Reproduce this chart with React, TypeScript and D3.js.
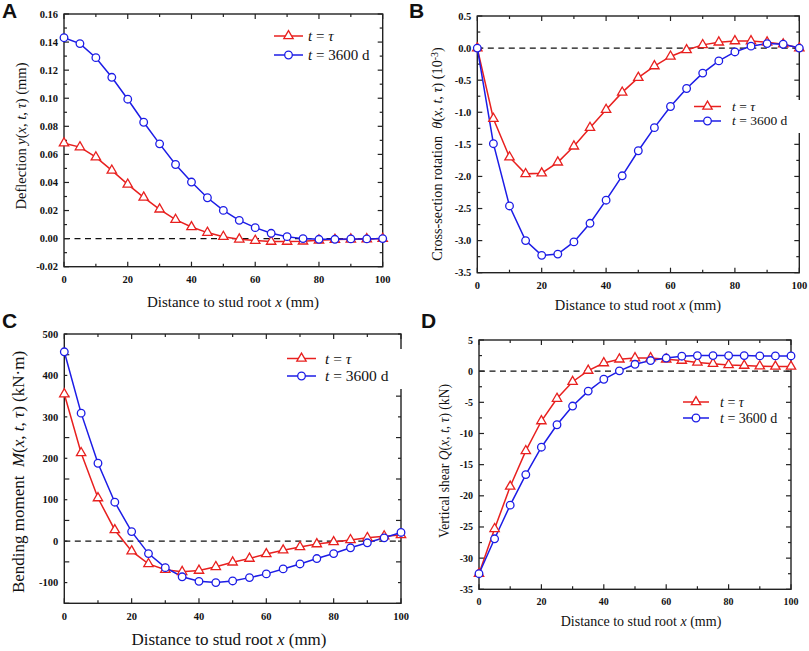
import React from "react";
import * as d3 from "d3";

const xValues = [0, 5, 10, 15, 20, 25, 30, 35, 40, 45, 50, 55, 60, 65, 70, 75, 80, 85, 90, 95, 100];

const deflectionTau = [0.068, 0.0652, 0.058, 0.0486, 0.0386, 0.0294, 0.0209, 0.0135, 0.0083, 0.0043, 0.0014, -0.0005, -0.0014, -0.0021, -0.0021, -0.0019, -0.0012, -0.0007, -0.0005, -0.0003, 0.0];
const deflection3600 = [0.1431, 0.1389, 0.1289, 0.1149, 0.0993, 0.0829, 0.0675, 0.0528, 0.0403, 0.0291, 0.0201, 0.013, 0.0078, 0.0038, 0.0014, 0.0, -0.0005, -0.0005, -0.0002, -0.0002, 0.0];

const rotationTau = [0, -1.1, -1.7, -1.96, -1.95, -1.78, -1.53, -1.24, -0.96, -0.69, -0.46, -0.28, -0.13, -0.03, 0.05, 0.09, 0.11, 0.11, 0.09, 0.06, 0];
const rotation3600 = [0, -1.49, -2.46, -3.0, -3.23, -3.21, -3.02, -2.73, -2.37, -1.99, -1.6, -1.24, -0.91, -0.63, -0.39, -0.2, -0.06, 0.03, 0.07, 0.06, 0];

const momentTau = [355, 213, 104, 27, -24, -55, -69, -74, -71, -62, -51, -42, -31, -22, -14, -7, -2, 3, 8, 12, 15];
const moment3600 = [457, 309, 188, 94, 23, -30, -64, -86, -97, -100, -96, -88, -79, -67, -55, -42, -30, -16, -4, 8, 21];

const shearTau = [-32.5, -25.3, -18.5, -12.8, -8.0, -4.4, -1.7, 0.1, 1.3, 1.9, 2.1, 2.1, 1.9, 1.7, 1.4, 1.2, 1.0, 0.9, 0.8, 0.75, 0.75];
const shear3600 = [-32.5, -26.9, -21.5, -16.6, -12.2, -8.6, -5.6, -3.2, -1.3, 0.05, 1.1, 1.7, 2.1, 2.4, 2.5, 2.5, 2.5, 2.5, 2.45, 2.45, 2.45];

const xTicks = [0, 20, 40, 60, 80, 100];
const deflectionTicks = [-0.02, 0, 0.02, 0.04, 0.06, 0.08, 0.1, 0.12, 0.14, 0.16];
const rotationTicks = [-3.5, -3.0, -2.5, -2.0, -1.5, -1.0, -0.5, 0, 0.5];
const momentTicks = [-100, 0, 100, 200, 300, 400, 500];
const shearTicks = [-35, -30, -25, -20, -15, -10, -5, 0, 5];

const legendTau = "t = \u03c4";
const legend3600 = "t = 3600 d";

const RED = "#e8201f";
const BLUE = "#1c1ce6";
const SERIF = "'Liberation Serif','Times New Roman',Times,serif";
const SANS = "'Liberation Sans',Arial,Helvetica,sans-serif";

type Box = { left: number; right: number; top: number; bottom: number };

type PanelProps = {
  box: Box;
  yDomain: [number, number];
  yTicks: number[];
  yMinorStep: number;
  xMinorStep: number;
  fmt: (v: number) => string;
  red: number[];
  blue: number[];
  tickFont: number;
  titleFont: number;
  xTitle: { x: number; y: number };
  yTitle: { x: number; y: number; node: React.ReactNode; size: number };
  legend: { x1: number; x2: number; yRed: number; yBlue: number; textX: number; size: number; mask?: [number, number, number, number] };
  label: { text: string; x: number; y: number };
};

function Marker({ kind, cx, cy, color }: { kind: "tri" | "circ"; cx: number; cy: number; color: string }) {
  if (kind === "circ") {
    return <circle cx={cx} cy={cy} r={3.8} fill="white" stroke={color} strokeWidth={1.3} />;
  }
  const path = d3.symbol().type(d3.symbolTriangle).size(38)() as string;
  return <path d={path} transform={`translate(${cx},${cy})`} fill="white" stroke={color} strokeWidth={1.3} />;
}

function LegendText({ label, x, y, size }: { label: string; x: number; y: number; size: number }) {
  const rest = label.slice(1);
  const parts = rest.split("\u03c4");
  return (
    <text x={x} y={y} dy="0.33em" fontFamily={SERIF} fontSize={size} fill="#111">
      <tspan fontStyle="italic">t</tspan>
      {parts.length > 1 ? (
        <>
          <tspan>{parts[0]}</tspan>
          <tspan fontStyle="italic">{"\u03c4"}</tspan>
        </>
      ) : (
        <tspan>{rest}</tspan>
      )}
    </text>
  );
}

function Panel(p: PanelProps) {
  const { box } = p;
  const x = d3.scaleLinear().domain([0, 100]).range([box.left, box.right]);
  const y = d3.scaleLinear().domain(p.yDomain).range([box.bottom, box.top]);
  const line = d3
    .line<number>()
    .x((_, i) => x(xValues[i]))
    .y((d) => y(d));
  const xMinor = d3.range(0, 100 + 1e-9, p.xMinorStep);
  const yMinor = d3.range(p.yDomain[0], p.yDomain[1] + 1e-9, p.yMinorStep);
  const yMajorAll = d3.range(p.yDomain[0], p.yDomain[1] + 1e-9, p.yMinorStep * 2);
  const MAJ = 5;
  const MIN = 3;
  const tickStroke = { stroke: "#222", strokeWidth: 1.2 };

  return (
    <g>
      <line x1={box.left} x2={box.right} y1={y(0)} y2={y(0)} stroke="#111" strokeWidth={1.4} strokeDasharray="6,4.5" />
      <rect x={box.left} y={box.top} width={box.right - box.left} height={box.bottom - box.top} fill="none" stroke="#222" strokeWidth={1.4} />
      {xMinor.map((v) => {
        const major = xTicks.includes(Math.round(v));
        const L = major ? MAJ : MIN;
        return (
          <g key={"xt" + v}>
            <line x1={x(v)} x2={x(v)} y1={box.bottom} y2={box.bottom - L} {...tickStroke} />
            <line x1={x(v)} x2={x(v)} y1={box.top} y2={box.top + L} {...tickStroke} />
          </g>
        );
      })}
      {yMinor.map((v, i) => {
        const major = yMajorAll.some((m) => Math.abs(m - v) < 1e-9);
        const L = major ? MAJ : MIN;
        return (
          <g key={"yt" + i}>
            <line x1={box.left} x2={box.left + L} y1={y(v)} y2={y(v)} {...tickStroke} />
            <line x1={box.right} x2={box.right - L} y1={y(v)} y2={y(v)} {...tickStroke} />
          </g>
        );
      })}
      {xTicks.map((v) => (
        <text key={"xl" + v} x={x(v)} y={box.bottom + 9} dy="0.71em" textAnchor="middle" fontFamily={SERIF} fontWeight="bold" fontSize={p.tickFont} fill="#111">
          {String(v)}
        </text>
      ))}
      {p.yTicks.map((v) => (
        <text key={"yl" + v} x={box.left - 6} y={y(v)} dy="0.35em" textAnchor="end" fontFamily={SERIF} fontWeight="bold" fontSize={p.tickFont} fill="#111">
          {p.fmt(v)}
        </text>
      ))}
      <text x={p.xTitle.x} y={p.xTitle.y} textAnchor="middle" fontFamily={SERIF} fontSize={p.titleFont} fill="#111">
        Distance to stud root <tspan fontStyle="italic">x</tspan> (mm)
      </text>
      <text
        transform={`translate(${p.yTitle.x},${p.yTitle.y}) rotate(-90)`}
        dy="0.35em"
        textAnchor="middle"
        fontFamily={SERIF}
        fontSize={p.yTitle.size}
        fill="#111"
      >
        {p.yTitle.node}
      </text>
      <path d={line(p.red) as string} fill="none" stroke={RED} strokeWidth={1.5} />
      <path d={line(p.blue) as string} fill="none" stroke={BLUE} strokeWidth={1.5} />
      {p.red.map((v, i) => (
        <Marker key={"r" + i} kind="tri" cx={x(xValues[i])} cy={y(v)} color={RED} />
      ))}
      {p.blue.map((v, i) => (
        <Marker key={"b" + i} kind="circ" cx={x(xValues[i])} cy={y(v)} color={BLUE} />
      ))}
      {p.legend.mask && (
        <rect x={p.legend.mask[0]} y={p.legend.mask[1]} width={p.legend.mask[2]} height={p.legend.mask[3]} fill="white" />
      )}
      <line x1={p.legend.x1} x2={p.legend.x2} y1={p.legend.yRed} y2={p.legend.yRed} stroke={RED} strokeWidth={1.5} />
      <Marker kind="tri" cx={(p.legend.x1 + p.legend.x2) / 2} cy={p.legend.yRed} color={RED} />
      <LegendText label={legendTau} x={p.legend.textX} y={p.legend.yRed} size={p.legend.size} />
      <line x1={p.legend.x1} x2={p.legend.x2} y1={p.legend.yBlue} y2={p.legend.yBlue} stroke={BLUE} strokeWidth={1.5} />
      <Marker kind="circ" cx={(p.legend.x1 + p.legend.x2) / 2} cy={p.legend.yBlue} color={BLUE} />
      <LegendText label={legend3600} x={p.legend.textX} y={p.legend.yBlue} size={p.legend.size} />
      <text x={p.label.x} y={p.label.y} fontFamily={SANS} fontWeight="bold" fontSize={21} fill="#111">
        {p.label.text}
      </text>
    </g>
  );
}

const fixMinus = (s: string) => s.replace("\u2212", "-");
const fmt2 = (v: number) => fixMinus(d3.format(".2f")(v));
const fmt1 = (v: number) => fixMinus(d3.format(".1f")(v));
const fmt0 = (v: number) => fixMinus(d3.format("d")(v));

const xyt = (
  <>
    (<tspan fontStyle="italic">x</tspan>, <tspan fontStyle="italic">t</tspan>, <tspan fontStyle="italic">{"\u03c4"}</tspan>)
  </>
);

export default function App() {
  return (
    <svg width={809} height={651} style={{ position: "absolute", left: 0, top: 0, background: "white" }}>
      <rect width={809} height={651} fill="white" />
      <Panel
        box={{ left: 64, right: 382.7, top: 14, bottom: 266.7 }}
        yDomain={[-0.02, 0.16]}
        yTicks={deflectionTicks}
        yMinorStep={0.01}
        xMinorStep={10}
        fmt={fmt2}
        red={deflectionTau}
        blue={deflection3600}
        tickFont={10.5}
        titleFont={15}
        xTitle={{ x: 233, y: 307 }}
        yTitle={{
          x: 21,
          y: 136,
          size: 14.5,
          node: (
            <>
              Deflection <tspan fontStyle="italic">y</tspan>
              {xyt} (mm)
            </>
          ),
        }}
        legend={{ x1: 274, x2: 303, yRed: 36, yBlue: 55, textX: 308, size: 15 }}
        label={{ text: "A", x: 2, y: 18 }}
      />
      <Panel
        box={{ left: 477.3, right: 799.3, top: 16, bottom: 272.7 }}
        yDomain={[-3.5, 0.5]}
        yTicks={rotationTicks}
        yMinorStep={0.25}
        xMinorStep={10}
        fmt={fmt1}
        red={rotationTau}
        blue={rotation3600}
        tickFont={10.5}
        titleFont={14.5}
        xTitle={{ x: 638, y: 310 }}
        yTitle={{
          x: 437,
          y: 154,
          size: 14.2,
          node: (
            <>
              Cross-section rotation{"\u00a0\u00a0"}<tspan fontStyle="italic">{"\u03b8"}</tspan>
              {xyt} (10
              <tspan dy="-0.45em" fontSize="0.7em">-3</tspan>
              <tspan dy="0.3em">)</tspan>
            </>
          ),
        }}
        legend={{ x1: 694, x2: 721, yRed: 106.5, yBlue: 121, textX: 732, size: 13.5, mask: [688, 100, 116, 33] }}
        label={{ text: "B", x: 409, y: 18 }}
      />
      <Panel
        box={{ left: 64.3, right: 401, top: 334, bottom: 603.3 }}
        yDomain={[-150, 500]}
        yTicks={momentTicks}
        yMinorStep={50}
        xMinorStep={10}
        fmt={fmt0}
        red={momentTau}
        blue={moment3600}
        tickFont={10.5}
        titleFont={17}
        xTitle={{ x: 229, y: 645 }}
        yTitle={{
          x: 18.5,
          y: 472,
          size: 17,
          node: (
            <>
              Bending moment{"\u00a0\u00a0"}<tspan fontStyle="italic">M</tspan>
              {xyt} (kN{"\u00b7"}m)
            </>
          ),
        }}
        legend={{ x1: 287, x2: 316, yRed: 358.5, yBlue: 376, textX: 325, size: 15.5, mask: [283, 349, 122, 40] }}
        label={{ text: "C", x: 2, y: 328 }}
      />
      <Panel
        box={{ left: 479, right: 791, top: 340, bottom: 589.3 }}
        yDomain={[-35, 5]}
        yTicks={shearTicks}
        yMinorStep={2.5}
        xMinorStep={10}
        fmt={fmt0}
        red={shearTau}
        blue={shear3600}
        tickFont={10}
        titleFont={14}
        xTitle={{ x: 641, y: 626 }}
        yTitle={{
          x: 444,
          y: 461,
          size: 13.6,
          node: (
            <>
              Vertical shear <tspan fontStyle="italic">Q</tspan>
              {xyt} (kN)
            </>
          ),
        }}
        legend={{ x1: 683, x2: 709, yRed: 402, yBlue: 418, textX: 720, size: 14 }}
        label={{ text: "D", x: 421, y: 328 }}
      />
    </svg>
  );
}
